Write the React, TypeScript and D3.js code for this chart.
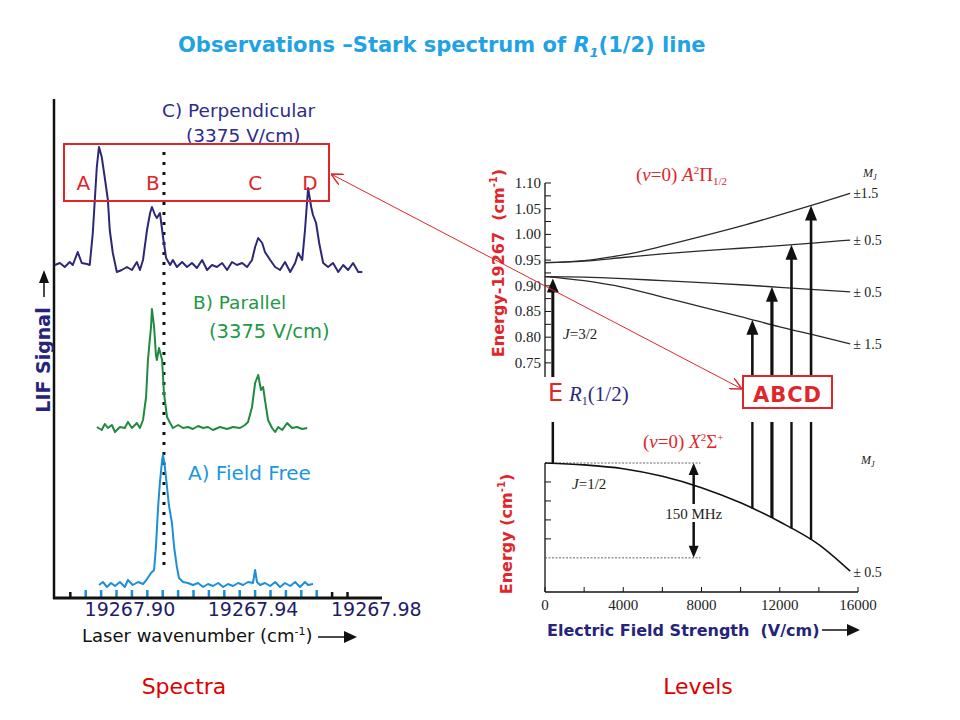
import * as d3 from "d3"
import React, { useRef, useEffect } from "react"

// ---- spectra (LIF signal vs laser wavenumber) ----
// wavenumbers are offsets from 19267.90 cm-1
const WN_REF = 19267.9
const fieldFreeLine = 0.0104

const freeWn = [-0.0107, -0.0094, -0.0081, -0.0068, -0.0055, -0.0039, -0.0023, -0.0013, 0.0003, 0.002, 0.0036, 0.0049, 0.0062, 0.0072, 0.0078, 0.0085, 0.0091, 0.0098, 0.0101, 0.0107, 0.0114, 0.012, 0.013, 0.0137, 0.0146, 0.0153, 0.0166, 0.0182, 0.0198, 0.0215, 0.0231, 0.0247, 0.0263, 0.028, 0.0296, 0.0312, 0.0328, 0.0345, 0.0361, 0.0377, 0.0393, 0.04, 0.0406, 0.0416, 0.0432, 0.0449, 0.0465, 0.0481, 0.0497, 0.0514, 0.053, 0.0546, 0.0562, 0.0572, 0.0588]
const freeSignal = [-0.008, 0.016, -0.024, 0.008, -0.016, 0.016, -0.024, 0.032, -0.008, 0.016, 0, 0.04, 0.088, 0.112, 0.296, 0.616, 0.816, 0.992, 1.032, 0.936, 0.776, 0.632, 0.488, 0.296, 0.136, 0.048, 0.016, 0.008, -0.008, 0.008, -0.024, 0, -0.016, 0.008, -0.024, 0, -0.016, 0.008, -0.008, 0.016, 0.008, 0.112, 0.016, -0.008, 0.008, -0.016, 0.016, -0.024, 0.008, -0.016, 0.016, -0.024, 0.016, -0.008, 0]

const parWn = [-0.0114, -0.0098, -0.0088, -0.0078, -0.0065, -0.0055, -0.0039, -0.0023, -0.0013, 0, 0.0016, 0.0026, 0.0036, 0.0046, 0.0052, 0.0062, 0.0065, 0.0072, 0.0078, 0.0081, 0.0088, 0.0098, 0.0104, 0.0114, 0.0124, 0.0133, 0.015, 0.0166, 0.0182, 0.0198, 0.0215, 0.0231, 0.0247, 0.0263, 0.0286, 0.0309, 0.0328, 0.0351, 0.0367, 0.0377, 0.039, 0.04, 0.041, 0.0419, 0.0426, 0.0432, 0.0442, 0.0455, 0.0465, 0.0475, 0.0488, 0.0504, 0.052, 0.0536, 0.0553, 0.0569]
const parSignal = [0, -0.024, 0.024, -0.008, 0.016, -0.04, 0, -0.008, 0.04, -0.008, 0.032, -0.008, 0.056, 0.24, 0.536, 0.8, 0.944, 0.8, 0.576, 0.536, 0.632, 0.536, 0.272, 0.08, 0.032, -0.008, 0.016, -0.008, 0, -0.016, 0.008, -0.008, 0, -0.024, 0, -0.016, 0, -0.008, 0.016, 0.04, 0.16, 0.352, 0.416, 0.296, 0.32, 0.216, 0.056, -0.008, -0.04, 0, -0.024, 0.032, -0.008, 0, -0.016, -0.008]

const perpWn = [-0.025, -0.0234, -0.0218, -0.0202, -0.0192, -0.0176, -0.0163, -0.0146, -0.0137, -0.0127, -0.0114, -0.0107, -0.0098, -0.0088, -0.0078, -0.0072, -0.0062, -0.0049, -0.0033, -0.0016, 0, 0.0016, 0.0026, 0.0036, 0.0049, 0.0059, 0.0065, 0.0075, 0.0081, 0.0091, 0.0101, 0.0111, 0.0124, 0.0133, 0.0146, 0.0163, 0.0179, 0.0195, 0.0211, 0.0228, 0.0244, 0.026, 0.0276, 0.0293, 0.0309, 0.0325, 0.0341, 0.0358, 0.0374, 0.039, 0.04, 0.041, 0.0423, 0.0432, 0.0449, 0.0465, 0.0481, 0.0497, 0.0514, 0.053, 0.054, 0.0553, 0.0562, 0.0572, 0.0582, 0.0588, 0.0598, 0.0608, 0.0621, 0.0637, 0.0653, 0.067, 0.0686, 0.0702, 0.0718, 0.0735, 0.0748]
const perpSignal = [0.016, 0.032, 0, 0.04, 0.016, 0.12, 0.032, 0.024, 0.016, 0.272, 0.8, 0.96, 0.88, 0.712, 0.536, 0.296, 0.112, -0.04, -0.024, 0, -0.024, 0.04, -0.024, 0.056, 0.296, 0.432, 0.48, 0.416, 0.392, 0.432, 0.24, 0.072, 0.016, 0.056, 0, 0.04, 0, 0.032, -0.008, 0.056, -0.024, 0.016, 0, 0.032, -0.024, 0.04, 0.016, 0.032, 0, 0.056, 0.16, 0.232, 0.192, 0.12, 0.056, 0, -0.024, 0.04, -0.04, 0.032, 0.112, 0.056, 0.296, 0.632, 0.48, 0.416, 0.352, 0.192, 0.032, 0, 0.032, -0.04, 0.016, -0.024, 0.032, -0.04, -0.04]

// vertical offsets of the stacked traces A, B, C
const traceBaselines = [0.112, 1.368, 2.648]
const peakLetters = ["A", "B", "C", "D"]
const peakLetterWn = [-0.0158, 0.0068, 0.04, 0.0578]

const wnTickLabels = [19267.9, 19267.94, 19267.98]

// ---- Stark levels vs electric field ----
const fieldGrid = [0, 2000, 4000, 6000, 8000, 10000, 12000, 14000, 15600]
const upperPlus15 = [0.945, 0.949, 0.96, 0.977, 0.996, 1.016, 1.038, 1.061, 1.08]
const upperPlus05 = [0.945, 0.948, 0.955, 0.962, 0.968, 0.973, 0.978, 0.984, 0.989]
const lowerMinus05 = [0.918, 0.917, 0.914, 0.91, 0.906, 0.902, 0.897, 0.892, 0.888]
const lowerMinus15 = [0.918, 0.91, 0.897, 0.878, 0.859, 0.84, 0.82, 0.802, 0.787]
const mjLabels = ["±1.5", "± 0.5", "± 0.5", "± 1.5"]
// ground X state J=1/2 shift (cm-1)
const groundShift = [0, -0.0001, -0.0003, -0.0007, -0.0013, -0.0021, -0.0031, -0.0043, -0.0057]

const r1Field = 400
const transitionFields = [10600, 11600, 12600, 13600]
const transitionLevel = [3, 2, 1, 0] // index into upper level list

const energyTicks = [0.75, 0.8, 0.85, 0.9, 0.95, 1.0, 1.05, 1.1]
const fieldTicks = [0, 4000, 8000, 12000, 16000]

const COMIC = "'Comic Sans MS', 'DejaVu Sans', Verdana, sans-serif"
const SERIF = "'Liberation Serif', 'Times New Roman', serif"
const RED = "#e0262a"
const NAVY = "#26237c"

function App() {
  const svgRef = useRef<SVGSVGElement>(null)

  useEffect(() => {
    const svg = d3.select(svgRef.current)
    svg.selectAll("*").remove()

    const defs = svg.append("defs")
    defs
      .append("marker")
      .attr("id", "redhead")
      .attr("viewBox", "0 0 10 10")
      .attr("refX", 10)
      .attr("refY", 5)
      .attr("markerWidth", 12)
      .attr("markerHeight", 12)
      .attr("markerUnits", "userSpaceOnUse")
      .attr("orient", "auto-start-reverse")
      .append("path")
      .attr("d", "M0,0 L10,5 L0,10")
      .attr("fill", "none")
      .attr("stroke", RED)
      .attr("stroke-width", 1.2)

    const upArrow = (g, cx, tipY, w = 6, h = 14, color = "#111") =>
      g
        .append("path")
        .attr("d", `M${cx},${tipY} L${cx - w},${tipY + h} L${cx + w},${tipY + h} Z`)
        .attr("fill", color)

    // title
    const title = svg
      .append("text")
      .attr("x", 178)
      .attr("y", 52)
      .style("font", `bold 21px ${COMIC}`)
      .attr("fill", "#1fa2e6")
    title.append("tspan").text("Observations –Stark spectrum of ")
    title.append("tspan").style("font-style", "italic").text("R")
    title.append("tspan").style("font-style", "italic").style("font-size", "13px").attr("dy", 5).text("1")
    title.append("tspan").attr("dy", -5).text("(1/2) line")

    // ================= left: spectra =================
    const x = d3.scaleLinear().domain([WN_REF - 0.0253, WN_REF + 0.0812]).range([54, 382])
    const y = d3.scaleLinear().domain([0, 4]).range([598, 98])

    const left = svg.append("g")

    // minor ticks every 0.005
    const minor = d3.range(0, 19).map((i) => WN_REF - 0.02 + i * 0.005)
    const inTrace = (d) => d > WN_REF - 0.016 && d < WN_REF + 0.061
    left
      .selectAll("line.tick")
      .data(minor)
      .enter()
      .append("line")
      .attr("x1", (d) => x(d))
      .attr("x2", (d) => x(d))
      .attr("y1", 598)
      .attr("y2", (d) => (inTrace(d) ? 590 : 592))
      .attr("stroke", (d) => (inTrace(d) ? "#1b8fd8" : "#111"))
      .attr("stroke-width", 2.5)

    left
      .append("line")
      .attr("x1", 54)
      .attr("x2", 54)
      .attr("y1", y(4) + 1)
      .attr("y2", 599)
      .attr("stroke", "#111")
      .attr("stroke-width", 2.5)
    left
      .append("line")
      .attr("x1", 53)
      .attr("x2", 382)
      .attr("y1", 598)
      .attr("y2", 598)
      .attr("stroke", "#111")
      .attr("stroke-width", 3)

    left
      .selectAll("text.wn")
      .data(wnTickLabels)
      .enter()
      .append("text")
      .attr("x", (d) => x(d) - 2)
      .attr("y", 616)
      .attr("text-anchor", "middle")
      .style("font", `19px ${COMIC}`)
      .attr("fill", "#1f1c6a")
      .text((d) => d.toFixed(2))

    const xt = left
      .append("text")
      .attr("x", 82)
      .attr("y", 642)
      .style("font", `18px ${COMIC}`)
      .attr("fill", "#111")
    xt.append("tspan").text("Laser wavenumber (cm")
    xt.append("tspan").attr("dy", -7).style("font-size", "11px").text("-1")
    xt.append("tspan").attr("dy", 7).text(")")
    left.append("line").attr("x1", 318).attr("x2", 346).attr("y1", 637).attr("y2", 637).attr("stroke", "#111").attr("stroke-width", 1.5)
    left.append("path").attr("d", "M357,637 L344,631 L344,643 Z").attr("fill", "#111")

    // LIF signal axis title
    left
      .append("text")
      .attr("transform", "translate(50,360) rotate(-90)")
      .attr("text-anchor", "middle")
      .style("font", `bold 19px ${COMIC}`)
      .attr("fill", NAVY)
      .text("LIF Signal")
    left.append("line").attr("x1", 44).attr("x2", 44).attr("y1", 297).attr("y2", 282).attr("stroke", "#111").attr("stroke-width", 1.5)
    left.append("path").attr("d", "M44,270 L39,283 L49,283 Z").attr("fill", "#111")

    // dotted reference line
    left
      .append("line")
      .attr("x1", x(WN_REF + fieldFreeLine))
      .attr("x2", x(WN_REF + fieldFreeLine))
      .attr("y1", 152)
      .attr("y2", 568)
      .attr("stroke", "#111")
      .attr("stroke-width", 3)
      .attr("stroke-dasharray", "3,7")

    const traces = [
      { wn: freeWn, sig: freeSignal, base: traceBaselines[0], color: "#1b8fd8" },
      { wn: parWn, sig: parSignal, base: traceBaselines[1], color: "#1f8a40" },
      { wn: perpWn, sig: perpSignal, base: traceBaselines[2], color: "#2b2878" },
    ]
    traces.forEach((t) => {
      const pts = t.wn.map((w, i) => [WN_REF + w, t.base + t.sig[i]] as [number, number])
      left
        .append("path")
        .attr("d", d3.line<[number, number]>().x((d) => x(d[0])).y((d) => y(d[1]))(pts))
        .attr("fill", "none")
        .attr("stroke", t.color)
        .attr("stroke-width", 2)
        .attr("stroke-linejoin", "round")
    })

    const label = (tx, ty, s, color, size) =>
      left.append("text").attr("x", tx).attr("y", ty).style("font", `${size}px ${COMIC}`).attr("fill", color).text(s)
    label(162, 117, "C) Perpendicular", "#2e2b8a", 18.5)
    label(186, 142, "(3375 V/cm)", "#2e2b8a", 18.5)
    label(193, 309, "B) Parallel", "#239846", 18.5)
    label(209, 338, "(3375 V/cm)", "#239846", 19.5)
    label(188, 480, "A) Field Free", "#1c97de", 20)

    // red box with peak letters
    left
      .append("rect")
      .attr("x", 64)
      .attr("y", 144)
      .attr("width", 265)
      .attr("height", 57)
      .attr("fill", "none")
      .attr("stroke", RED)
      .attr("stroke-width", 2)
    left
      .selectAll("text.pk")
      .data(peakLetters)
      .enter()
      .append("text")
      .attr("x", (d, i) => x(WN_REF + peakLetterWn[i]))
      .attr("y", 190)
      .attr("text-anchor", "middle")
      .style("font", `20px ${COMIC}`)
      .attr("fill", RED)
      .text((d) => d)

    // ================= right: Stark levels =================
    const right = svg.append("g")
    const fx = d3.scaleLinear().domain([0, 16000]).range([545, 858])
    const ey = d3.scaleLinear().domain([0.7225, 1.1]).range([377, 183])
    const gy = d3.scaleLinear().domain([-0.0068, 0]).range([592, 463])

    // upper axis
    right.append("line").attr("x1", 545).attr("x2", 545).attr("y1", ey(1.1)).attr("y2", 377).attr("stroke", "#111").attr("stroke-width", 1.3)
    const eMinor = d3.range(0, 15).map((i) => 0.75 + i * 0.025)
    right
      .selectAll("line.et")
      .data(eMinor)
      .enter()
      .append("line")
      .attr("x1", 545)
      .attr("x2", 551)
      .attr("y1", (d) => ey(d))
      .attr("y2", (d) => ey(d))
      .attr("stroke", "#111")
      .attr("stroke-width", 1)
    right
      .selectAll("text.el")
      .data(energyTicks)
      .enter()
      .append("text")
      .attr("x", 541)
      .attr("y", (d) => ey(d) + 5)
      .attr("text-anchor", "end")
      .style("font", `15px ${SERIF}`)
      .attr("fill", "#222")
      .text((d) => d.toFixed(2))

    const yt = right
      .append("text")
      .attr("transform", "translate(504,263) rotate(-90)")
      .attr("text-anchor", "middle")
      .style("font", `bold 16px ${COMIC}`)
      .attr("fill", RED)
    yt.append("tspan").text("Energy-19267\u00a0\u00a0(cm")
    yt.append("tspan").attr("dy", -7).style("font-size", "10px").text("-1")
    yt.append("tspan").attr("dy", 7).text(")")

    const levels = [upperPlus15, upperPlus05, lowerMinus05, lowerMinus15]
    const levelLine = (arr) =>
      d3
        .line<number>()
        .x((d, i) => fx(fieldGrid[i]))
        .y((d) => ey(d))
        .curve(d3.curveMonotoneX)(arr)
    levels.forEach((lv, i) => {
      right.append("path").attr("d", levelLine(lv)).attr("fill", "none").attr("stroke", "#2a2a2a").attr("stroke-width", 1.3)
      right
        .append("text")
        .attr("x", fx(15600) + 3)
        .attr("y", ey(lv[lv.length - 1]) + 5)
        .style("font", `14px ${SERIF}`)
        .attr("fill", "#222")
        .text(mjLabels[i])
    })
    const mj1 = right.append("text").attr("x", 863).attr("y", 177).style("font", `italic 12px ${SERIF}`).attr("fill", "#222")
    mj1.append("tspan").text("M")
    mj1.append("tspan").attr("dy", 3).style("font-size", "8px").text("J")

    const aTitle = right.append("text").attr("x", 636).attr("y", 181).style("font", `19px ${SERIF}`).attr("fill", RED)
    aTitle.append("tspan").text("(")
    aTitle.append("tspan").style("font-style", "italic").text("v")
    aTitle.append("tspan").text("=0) ")
    aTitle.append("tspan").style("font-style", "italic").text("A")
    aTitle.append("tspan").attr("dy", -7).style("font-size", "11px").text("2")
    aTitle.append("tspan").attr("dy", 7).text("Π")
    aTitle.append("tspan").attr("dy", 4).style("font-size", "11px").text("1/2")

    const j32 = right.append("text").attr("x", 563).attr("y", 339).style("font", `15px ${SERIF}`).attr("fill", "#222")
    j32.append("tspan").style("font-style", "italic").text("J")
    j32.append("tspan").text("=3/2")

    // lower axis
    right.append("line").attr("x1", 545).attr("x2", 545).attr("y1", 463).attr("y2", 592).attr("stroke", "#111").attr("stroke-width", 1.3)
    right.append("line").attr("x1", 545).attr("x2", 858).attr("y1", 592).attr("y2", 592).attr("stroke", "#111").attr("stroke-width", 1.3)
    right
      .selectAll("line.gt")
      .data([-0.001, -0.002, -0.003, -0.004])
      .enter()
      .append("line")
      .attr("x1", 545)
      .attr("x2", 551)
      .attr("y1", (d) => gy(d))
      .attr("y2", (d) => gy(d))
      .attr("stroke", "#111")
    const fMinor = d3.range(0, 9).map((i) => i * 2000)
    right
      .selectAll("line.ft")
      .data(fMinor)
      .enter()
      .append("line")
      .attr("x1", (d) => fx(d))
      .attr("x2", (d) => fx(d))
      .attr("y1", 592)
      .attr("y2", 587)
      .attr("stroke", "#111")
    right
      .selectAll("text.fl")
      .data(fieldTicks)
      .enter()
      .append("text")
      .attr("x", (d) => fx(d))
      .attr("y", 610)
      .attr("text-anchor", "middle")
      .style("font", `15px ${SERIF}`)
      .attr("fill", "#222")
      .text((d) => String(d))

    const gyt = right
      .append("text")
      .attr("transform", "translate(512,534) rotate(-90)")
      .attr("text-anchor", "middle")
      .style("font", `bold 16px ${COMIC}`)
      .attr("fill", RED)
    gyt.append("tspan").text("Energy (cm")
    gyt.append("tspan").attr("dy", -7).style("font-size", "10px").text("-1")
    gyt.append("tspan").attr("dy", 7).text(")")

    right
      .append("text")
      .attr("x", 547)
      .attr("y", 636)
      .style("font", `bold 16px ${COMIC}`)
      .attr("fill", NAVY)
      .text("Electric Field Strength\u00a0\u00a0(V/cm)")
    right.append("line").attr("x1", 822).attr("x2", 848).attr("y1", 630).attr("y2", 630).attr("stroke", "#111").attr("stroke-width", 1.5)
    right.append("path").attr("d", "M860,630 L847,624 L847,636 Z").attr("fill", "#111")

    // ground level and 150 MHz marker
    ;[0, -0.005].forEach((e) =>
      right
        .append("line")
        .attr("x1", 545)
        .attr("x2", fx(7950))
        .attr("y1", gy(e))
        .attr("y2", gy(e))
        .attr("stroke", "#555")
        .attr("stroke-width", 0.9)
        .attr("stroke-dasharray", "2,1.5")
    )
    right
      .append("path")
      .attr("d", d3.line<number>().x((d, i) => fx(fieldGrid[i])).y((d) => gy(d)).curve(d3.curveMonotoneX)(groundShift))
      .attr("fill", "none")
      .attr("stroke", "#111")
      .attr("stroke-width", 1.6)

    const mx = fx(7600)
    right.append("line").attr("x1", mx).attr("x2", mx).attr("y1", gy(0) + 8).attr("y2", gy(-0.005) - 8).attr("stroke", "#111").attr("stroke-width", 2.5)
    upArrow(right, mx, gy(0), 5, 12)
    right.append("path").attr("d", `M${mx},${gy(-0.005)} L${mx - 5},${gy(-0.005) - 12} L${mx + 5},${gy(-0.005) - 12} Z`).attr("fill", "#111")
    right.append("rect").attr("x", mx - 34).attr("y", 504).attr("width", 68).attr("height", 18).attr("fill", "#fff")
    right.append("text").attr("x", mx).attr("y", 519).attr("text-anchor", "middle").style("font", `15px ${SERIF}`).attr("fill", "#222").text("150 MHz")

    const j12 = right.append("text").attr("x", 572).attr("y", 489).style("font", `15px ${SERIF}`).attr("fill", "#222")
    j12.append("tspan").style("font-style", "italic").text("J")
    j12.append("tspan").text("=1/2")

    const xTitle = right.append("text").attr("x", 643).attr("y", 448).style("font", `19px ${SERIF}`).attr("fill", RED)
    xTitle.append("tspan").text("(")
    xTitle.append("tspan").style("font-style", "italic").text("v")
    xTitle.append("tspan").text("=0) ")
    xTitle.append("tspan").style("font-style", "italic").text("X")
    xTitle.append("tspan").attr("dy", -7).style("font-size", "11px").text("2")
    xTitle.append("tspan").attr("dy", 7).text("Σ")
    xTitle.append("tspan").attr("dy", -7).style("font-size", "11px").text("+")

    const mj2 = right.append("text").attr("x", 861).attr("y", 464).style("font", `italic 12px ${SERIF}`).attr("fill", "#222")
    mj2.append("tspan").text("M")
    mj2.append("tspan").attr("dy", 3).style("font-size", "8px").text("J")
    right.append("text").attr("x", fx(15600) + 3).attr("y", gy(groundShift[groundShift.length - 1]) + 6).style("font", `14px ${SERIF}`).attr("fill", "#222").text("± 0.5")

    // transitions
    const groundAt = d3.scaleLinear().domain(fieldGrid).range(groundShift)
    const r1x = fx(r1Field)
    right.append("line").attr("x1", r1x).attr("x2", r1x).attr("y1", 377).attr("y2", ey(lowerMinus05[0]) + 12).attr("stroke", "#111").attr("stroke-width", 3)
    upArrow(right, r1x, ey(lowerMinus05[0]) + 2, 6, 14)
    right.append("line").attr("x1", r1x).attr("x2", r1x).attr("y1", 422).attr("y2", gy(groundAt(r1Field))).attr("stroke", "#111").attr("stroke-width", 2.5)

    transitionFields.forEach((f, i) => {
      const lv = levels[transitionLevel[i]]
      const tipE = d3.scaleLinear().domain(fieldGrid).range(lv)(f)
      const tx = fx(f)
      right.append("line").attr("x1", tx).attr("x2", tx).attr("y1", 377).attr("y2", ey(tipE) + 12).attr("stroke", "#111").attr("stroke-width", i === 1 ? 3.2 : 2.6)
      upArrow(right, tx, ey(tipE), 6, 15)
      right.append("line").attr("x1", tx).attr("x2", tx).attr("y1", 422).attr("y2", gy(groundAt(f))).attr("stroke", "#111").attr("stroke-width", i === 1 ? 3.2 : 2.4)
    })

    // E R1(1/2)
    right.append("text").attr("x", 548).attr("y", 401).style("font", `24px ${COMIC}`).attr("fill", RED).text("E")
    const r1 = right.append("text").attr("x", 569).attr("y", 401).style("font", `21px ${SERIF}`).attr("fill", "#2b2b7e")
    r1.append("tspan").style("font-style", "italic").text("R")
    r1.append("tspan").attr("dy", 4).style("font-size", "12px").text("1")
    r1.append("tspan").attr("dy", -4).text("(1/2)")

    // ABCD box
    right.append("rect").attr("x", 743).attr("y", 376).attr("width", 89).attr("height", 32).attr("fill", "#fff").attr("stroke", RED).attr("stroke-width", 2)
    right
      .append("text")
      .attr("x", 787.5)
      .attr("y", 402)
      .attr("text-anchor", "middle")
      .attr("letter-spacing", 1)
      .style("font", `bold 21px ${COMIC}`)
      .attr("fill", RED)
      .text(peakLetters.join(""))

    // red connector between the two panels
    svg
      .append("line")
      .attr("x1", 331)
      .attr("y1", 174)
      .attr("x2", 742)
      .attr("y2", 389)
      .attr("stroke", RED)
      .attr("stroke-width", 1)
      .attr("marker-start", "url(#redhead)")
      .attr("marker-end", "url(#redhead)")

    // bottom captions
    svg.append("text").attr("x", 184).attr("y", 694).attr("text-anchor", "middle").style("font", `22px ${COMIC}`).attr("fill", "#dd0000").text("Spectra")
    svg.append("text").attr("x", 698).attr("y", 694).attr("text-anchor", "middle").style("font", `22px ${COMIC}`).attr("fill", "#dd0000").text("Levels")
  }, [])

  return (
    <svg
      ref={svgRef}
      width={960}
      height={720}
      style={{ position: "absolute", left: 0, top: 0, background: "#fff" }}
    />
  )
}

export default App
